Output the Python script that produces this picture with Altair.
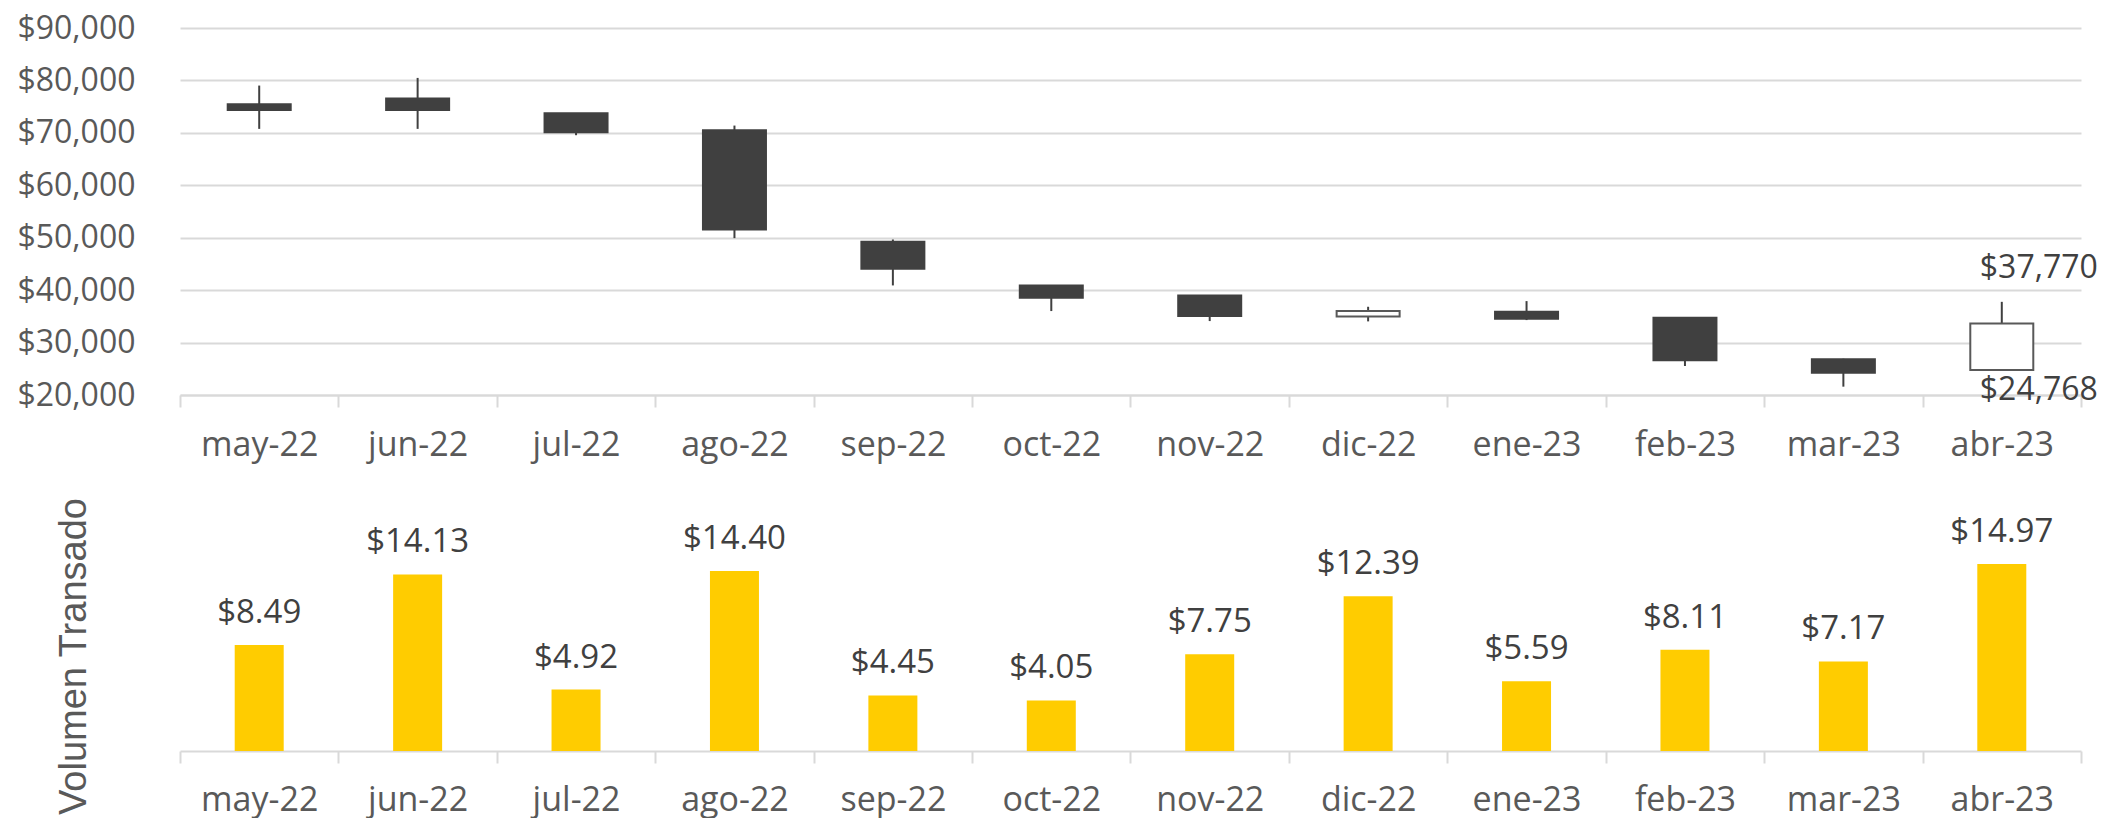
import altair as alt
import pandas as pd

# ---- data ----
months = ["may-22", "jun-22", "jul-22", "ago-22", "sep-22", "oct-22",
          "nov-22", "dic-22", "ene-23", "feb-23", "mar-23", "abr-23"]
open_ = [75460, 76540, 73740, 70500, 49220, 40900, 38990, 34990, 35880, 34740, 26800, 24768]
high = [79020, 80480, 73740, 71390, 49660, 40900, 38990, 36830, 37910, 34740, 26920, 37770]
low = [70760, 70760, 69550, 49920, 40900, 36010, 34100, 34040, 34290, 25530, 21590, 24768]
close = [74380, 74380, 70120, 51570, 44070, 38550, 35060, 36010, 34550, 26610, 24260, 33630]
volume = [8.49, 14.13, 4.92, 14.40, 4.45, 4.05, 7.75, 12.39, 5.59, 8.11, 7.17, 14.97]
price_ticks = [20000, 30000, 40000, 50000, 60000, 70000, 80000, 90000]

df = pd.DataFrame({"mes": months, "open": open_, "high": high, "low": low,
                   "close": close, "volumen": volume})
last = df.tail(1)

FONT = "Open Sans"
LABEL = "#595959"
DARK = "#404040"
GRID = "#d9d9d9"
W = 1901

axis_style = dict(title=None, labelAngle=0, labelFont=FONT, labelFontSize=34,
                  labelColor=LABEL, tickBand="extent", ticks=True, tickSize=12,
                  tickColor=GRID, tickWidth=2, domainColor=GRID, domainWidth=2,
                  grid=False)

x_top = alt.X("mes:N", sort=months,
              scale=alt.Scale(paddingInner=0, paddingOuter=0),
              axis=alt.Axis(labelPadding=21, minExtent=63, maxExtent=63, **axis_style))
x_bot = alt.X("mes:N", sort=months,
              scale=alt.Scale(paddingInner=0, paddingOuter=0),
              axis=alt.Axis(labelPadding=20, **axis_style))

y_scale = alt.Scale(domain=[20000, 90000], nice=False, zero=False)
y_axis = alt.Axis(title=None, format="$,.0f", values=price_ticks, grid=True,
                  gridColor=GRID, gridWidth=2, domain=False, ticks=False,
                  labelPadding=45, labelFont=FONT, labelFontSize=32,
                  labelColor=LABEL, minExtent=165, maxExtent=165)

base = alt.Chart(df)
wick = base.mark_rule(color=DARK, strokeWidth=2).encode(
    x=x_top, y=alt.Y("low:Q", scale=y_scale, axis=y_axis), y2="high:Q")
body = base.mark_bar(size=63, strokeWidth=2).encode(
    x=x_top, y=alt.Y("open:Q", scale=y_scale, axis=y_axis), y2="close:Q",
    fill=alt.condition("datum.open > datum.close", alt.value(DARK), alt.value("#ffffff")),
    stroke=alt.condition("datum.open > datum.close", alt.value(DARK), alt.value(LABEL)))
hi_txt = alt.Chart(last).mark_text(align="left", baseline="middle", dx=-22, dy=-34,
                                   font=FONT, fontSize=32, color=DARK).encode(
    x=x_top, y=alt.Y("high:Q", scale=y_scale, axis=y_axis),
    text=alt.Text("high:Q", format="$,.0f"))
lo_txt = alt.Chart(last).mark_text(align="left", baseline="middle", dx=-22, dy=20,
                                   font=FONT, fontSize=32, color=DARK).encode(
    x=x_top, y=alt.Y("low:Q", scale=y_scale, axis=y_axis),
    text=alt.Text("low:Q", format="$,.0f"))

top = alt.layer(wick, body, hi_txt, lo_txt).properties(width=W, height=367)

v_scale = alt.Scale(domain=[0, 22], nice=False)
v_axis = alt.Axis(title="Volumen Transado", labels=False, ticks=False, domain=False,
                  grid=False, titleFont="Liberation Sans", titleFontSize=38,
                  titleFontWeight="normal", titleColor=LABEL, titlePadding=87,
                  titleY=180)
bars = base.mark_bar(size=49, color="#FFCC00").encode(
    x=x_bot, y=alt.Y("volumen:Q", scale=v_scale, axis=v_axis))
bar_txt = base.mark_text(baseline="alphabetic", dy=-22, font=FONT, fontSize=33,
                         color=DARK).encode(
    x=x_bot, y=alt.Y("volumen:Q", scale=v_scale, axis=v_axis),
    text=alt.Text("volumen:Q", format="$.2f"))
bottom = alt.layer(bars, bar_txt).properties(width=W, height=275)

chart = alt.vconcat(top, bottom, spacing=14).properties(
    padding={"left": 7, "top": 4, "right": 0, "bottom": 2}
).configure_view(stroke=None)

chart.save("out.html", embed_options={"renderer": "svg", "actions": False})
